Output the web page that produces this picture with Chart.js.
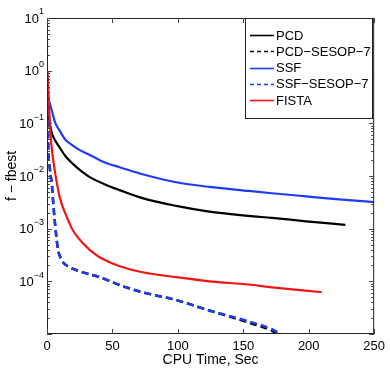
<!DOCTYPE html>
<html>
<head>
<meta charset="utf-8">
<script src="https://cdn.jsdelivr.net/npm/chart.js@4.4.0/dist/chart.umd.min.js"></script>
<style>
html, body { margin: 0; padding: 0; background: #fff; }
canvas { display: block; }
</style>
</head>
<body>
<canvas id="chart" width="390" height="374"></canvas>
<script>
// values (CPU time in sec, f - fbest)
const pcdT = [0.4, 1.2, 2.3, 4, 6.1, 9.9, 14, 19.8, 26, 32.7, 45.6, 55.5, 73, 98.8, 124, 154, 172, 198, 228];
const pcdF = [0.3, 0.15, 0.094, 0.062, 0.048, 0.034, 0.024, 0.017, 0.0125, 0.0095, 0.0067, 0.0054, 0.0038, 0.0027, 0.0021, 0.00175, 0.0016, 0.00138, 0.00118];

const pcdSesT = [0.4, 0.76, 2.3, 3.8, 4.6, 6.1, 8.4, 9.9, 12.2, 17.5, 27.4, 40.3, 55.5, 73, 98.8, 124, 154, 172, 180];
const pcdSesF = [0.3, 0.055, 0.013, 0.0067, 0.0035, 0.00126, 0.0004, 0.0003, 0.00023, 0.000185, 0.000148, 0.00012, 0.000085, 0.000062, 0.000044, 0.000028, 0.0000165, 0.0000115, 0.0000088];

const ssfT = [0.4, 0.76, 2.3, 3.8, 6.1, 9.9, 13.7, 19, 25.1, 32.7, 40.3, 47.9, 55.5, 73, 98.8, 124, 154, 172, 198, 223, 250];
const ssfF = [0.36, 0.315, 0.23, 0.17, 0.105, 0.071, 0.050, 0.039, 0.031, 0.025, 0.020, 0.0167, 0.0147, 0.0108, 0.0076, 0.0062, 0.0052, 0.0047, 0.0041, 0.0036, 0.0032];

const ssfSesT = [0.4, 0.76, 2.3, 3.8, 4.6, 6.1, 8.4, 9.9, 12.2, 17.5, 27.4, 40.3, 55.5, 73, 98.8, 124, 154, 172, 180];
const ssfSesF = [0.3, 0.055, 0.013, 0.0067, 0.0035, 0.00126, 0.0004, 0.0003, 0.00023, 0.000185, 0.000148, 0.00012, 0.000085, 0.000062, 0.000044, 0.000028, 0.0000174, 0.0000123, 0.0000095];

const fistaT = [0.4, 1.5, 2.3, 3.8, 6.1, 9.9, 15.2, 19.8, 27.4, 38, 47.9, 55.5, 73, 98.8, 124, 154, 172, 210];
const fistaF = [0.95, 0.25, 0.085, 0.031, 0.012, 0.0038, 0.00166, 0.00093, 0.00053, 0.00031, 0.00023, 0.000194, 0.000149, 0.00012, 0.0001, 0.000087, 0.000077, 0.000062];

const xTicks = [0, 50, 100, 150, 200, 250];
const yExponents = [-4, -3, -2, -1, 0, 1];

const FONT = '"Liberation Sans", Arial, Helvetica, sans-serif';
const BLUE = '#1f3cf5';
const RED = '#f01414';

function pts(t, f) {
    return t.map((v, i) => ({ x: v, y: f[i] }));
}

function series(label, t, f, color, dashed, order) {
    return {
        label: label,
        data: pts(t, f),
        borderColor: color,
        backgroundColor: color,
        borderWidth: dashed ? 2.5 : 2.2,
        borderDash: dashed ? [7, 4] : [],
        pointRadius: 0,
        cubicInterpolationMode: 'monotone',
        fill: false,
        order: order
    };
}

// axes box, inward ticks, 10^n labels and the boxed legend, drawn like the original
const matlabAxes = {
    id: 'matlabAxes',
    afterDraw(chart) {
        const ctx = chart.ctx;
        const a = chart.chartArea;
        const xs = chart.scales.x;
        const ys = chart.scales.y;

        ctx.save();
        ctx.strokeStyle = '#222';
        ctx.lineWidth = 1;
        ctx.strokeRect(a.left + 0.5, a.top + 0.5, a.right - a.left - 1, a.bottom - a.top - 1);

        ctx.strokeStyle = '#444';
        ctx.beginPath();
        xTicks.forEach(v => {
            const px = Math.round(xs.getPixelForValue(v)) + 0.5;
            ctx.moveTo(px, a.bottom); ctx.lineTo(px, a.bottom - 5);
            ctx.moveTo(px, a.top); ctx.lineTo(px, a.top + 5);
        });
        for (let e = -5; e <= 1; e++) {
            for (let k = 1; k <= 9; k++) {
                const v = k * Math.pow(10, e);
                if (v < 1e-5 || v > 10) continue;
                const py = Math.round(ys.getPixelForValue(v)) + 0.5;
                const len = k === 1 ? 5 : 3;
                ctx.moveTo(a.left, py); ctx.lineTo(a.left + len, py);
                ctx.moveTo(a.right, py); ctx.lineTo(a.right - len, py);
            }
        }
        ctx.stroke();

        // y tick labels as 10 with a raised exponent
        ctx.fillStyle = '#000';
        yExponents.forEach(e => {
            const py = ys.getPixelForValue(Math.pow(10, e));
            const sup = String(e).replace('-', '\u2212');
            ctx.font = '9px ' + FONT;
            const sw = ctx.measureText(sup).width;
            const right = a.left - 3;
            ctx.textBaseline = 'middle';
            ctx.font = '13px ' + FONT;
            ctx.textAlign = 'right';
            ctx.fillText('10', right - sw, py + 1);
            ctx.font = '9px ' + FONT;
            ctx.textAlign = 'left';
            ctx.fillText(sup, right - sw, py - 6);
        });

        // legend box in the top right corner
        const lx = 245, ly = 18, lw = 128, lh = 101;
        ctx.fillStyle = '#fff';
        ctx.fillRect(lx, ly, lw, lh);
        ctx.strokeStyle = '#222';
        ctx.strokeRect(lx + 0.5, ly + 0.5, lw - 1, lh - 1);
        ctx.font = '13px ' + FONT;
        ctx.textAlign = 'left';
        ctx.textBaseline = 'middle';
        chart.data.datasets.forEach((ds, i) => {
            const cy = 35 + i * 16.3;
            ctx.strokeStyle = ds.borderColor;
            ctx.lineWidth = 1.6;
            ctx.setLineDash(ds.borderDash.length ? [4, 3] : []);
            ctx.beginPath();
            ctx.moveTo(250, Math.round(cy) + 0.5);
            ctx.lineTo(274, Math.round(cy) + 0.5);
            ctx.stroke();
            ctx.setLineDash([]);
            ctx.fillStyle = '#000';
            ctx.fillText(ds.label, 276, cy + 1);
        });
        ctx.restore();
    }
};

const ctx = document.getElementById('chart').getContext('2d');

new Chart(ctx, {
    type: 'line',
    data: {
        datasets: [
            series('PCD', pcdT, pcdF, '#000', false, 4),
            series('PCD\u2212SESOP\u22127', pcdSesT, pcdSesF, '#000', true, 3),
            series('SSF', ssfT, ssfF, BLUE, false, 2),
            series('SSF\u2212SESOP\u22127', ssfSesT, ssfSesF, BLUE, true, 1),
            series('FISTA', fistaT, fistaF, RED, false, 0)
        ]
    },
    options: {
        responsive: false,
        devicePixelRatio: 1,
        animation: false,
        layout: { padding: { left: 0, right: 14, top: 18, bottom: 0 } },
        plugins: {
            legend: { display: false },
            tooltip: { enabled: false }
        },
        scales: {
            x: {
                type: 'linear',
                min: 0,
                max: 250,
                grid: { display: false, drawTicks: false },
                border: { display: false },
                afterFit: s => { s.height = 40; },
                afterBuildTicks: s => { s.ticks = xTicks.map(v => ({ value: v })); },
                ticks: {
                    padding: 5,
                    color: '#000',
                    font: { family: FONT, size: 13 },
                    maxRotation: 0
                },
                title: {
                    display: true,
                    text: 'CPU Time, Sec',
                    color: '#000',
                    font: { family: FONT, size: 14 },
                    padding: { top: 0, bottom: 5 }
                }
            },
            y: {
                type: 'logarithmic',
                min: 1e-5,
                max: 10,
                grid: { display: false, drawTicks: false },
                border: { display: false },
                afterFit: s => { s.width = 47; },
                ticks: { display: false },
                title: {
                    display: true,
                    text: 'f \u2212 fbest',
                    color: '#000',
                    font: { family: FONT, size: 14 },
                    padding: { top: 4, bottom: 0 }
                }
            }
        }
    },
    plugins: [matlabAxes]
});
</script>
</body>
</html>
